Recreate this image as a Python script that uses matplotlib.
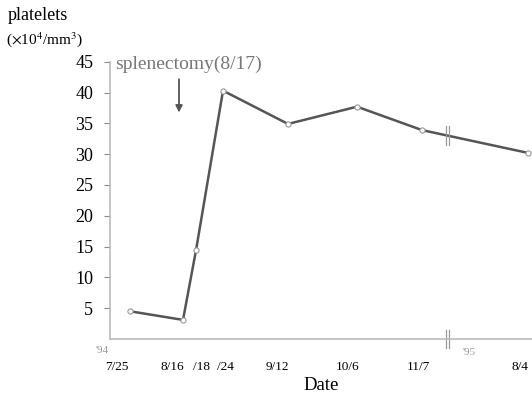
import matplotlib.pyplot as plt

plt.rcParams['font.family'] = ['Liberation Serif', 'DejaVu Serif']
plt.rcParams['mathtext.fontset'] = 'stix'

# dates and platelet counts (x10^4/mm^3)
dates = ['7/25', '8/16', '/18', '/24', '9/12', '10/6', '11/7', '8/4']
x_pos = [20, 73, 86, 113, 178, 247, 312, 418]   # horizontal spacing as drawn
label_pos = [6.5, 62.5, 91, 115, 167.5, 238, 308, 410]
platelets = [4.5, 3.1, 14.4, 40.3, 34.9, 37.7, 33.9, 30.2]
y_ticks = [5, 10, 15, 20, 25, 30, 35, 40, 45]
break_x = 337

fig = plt.figure(figsize=(5.32, 3.93), dpi=100)
ax = fig.add_axes([0.2068, 0.1374, 0.7932, 0.7056])

ax.plot(x_pos, platelets, color='#555555', lw=1.8, zorder=2)
ax.scatter(x_pos, platelets, s=14, facecolor='white', edgecolor='#999999',
           lw=0.8, zorder=3)

ax.set_xlim(0, 422)
ax.set_ylim(0, 45)
ax.set_yticks(y_ticks)
ax.set_yticklabels([str(v) for v in y_ticks], fontsize=13)
ax.set_xticks(label_pos)
ax.set_xticklabels(dates, fontsize=9.5)
ax.tick_params(axis='x', length=0, pad=16)
ax.tick_params(axis='y', length=4, color='#888888', pad=8, width=0.8)

for s in ['top', 'right']:
    ax.spines[s].set_visible(False)
ax.spines['left'].set_color('#bbbbbb')
ax.spines['bottom'].set_color('#bbbbbb')
ax.spines['left'].set_linewidth(1.2)
ax.spines['bottom'].set_linewidth(1.2)

# axis break marks
i = 6
yb = platelets[i] + (platelets[i + 1] - platelets[i]) * (break_x - x_pos[i]) / (x_pos[i + 1] - x_pos[i])
for dx in (-1.5, 1.5):
    ax.plot([break_x + dx] * 2, [-1.4, 1.4], color='#999999', lw=0.9, clip_on=False)
    ax.plot([break_x + dx] * 2, [yb - 1.6, yb + 1.6], color='#999999', lw=0.9)

ax.text(-14, -1.8, "'94", fontsize=8, color='#999999', ha='left', va='center')
ax.text(353, -2.2, "'95", fontsize=8, color='#999999', ha='left', va='center')

ax.text(5, 44.6, 'splenectomy(8/17)', fontsize=14, color='#777777',
        ha='left', va='center')
ax.annotate('', xy=(69, 36.3), xytext=(69, 42.6),
            arrowprops=dict(arrowstyle='-|>', color='#555555', lw=1.3,
                            mutation_scale=10))

ax.set_xlabel('Date', fontsize=13.5, labelpad=3)

fig.text(8 / 532, 1 - 16 / 393, 'platelets', fontsize=13, ha='left', va='center')
fig.text(6 / 532, 1 - 40 / 393, r'($\times$10$^4$/mm$^3$)', fontsize=11,
         ha='left', va='center')

fig.savefig('out.png', dpi=100)
